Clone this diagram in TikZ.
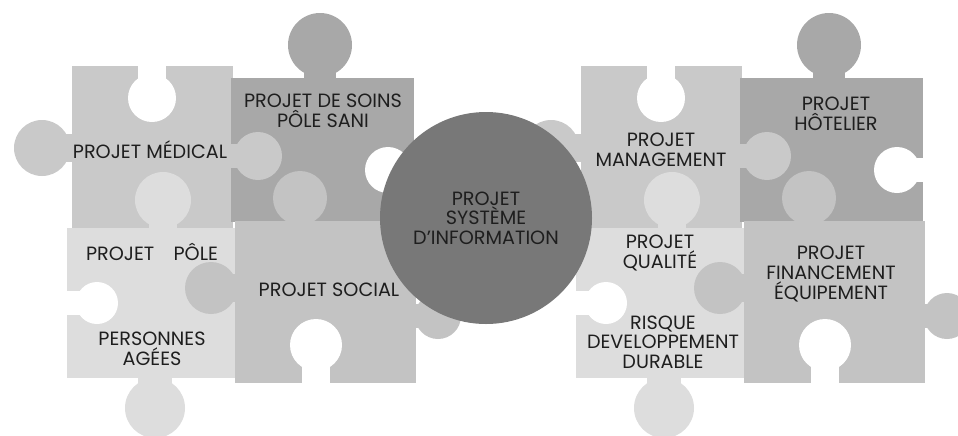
\documentclass[tikz,border=0pt]{standalone}
\usepackage{fontspec}
\setmainfont{Poppins}
\usepackage{tikz}
\definecolor{palegray}{HTML}{C9C9C9}
\definecolor{darkpiece}{HTML}{A8A8A8}
\definecolor{lightpiece}{HTML}{DDDDDD}
\definecolor{midpiece}{HTML}{C3C3C3}
\definecolor{sigray}{HTML}{787878}
\definecolor{inkgray}{HTML}{1E1E1E}
\tikzset{
  piece/.style={fill=#1, draw=none},
  hole/.style={fill=white, draw=none},
  puzzletext/.style={font=\fontsize{9.6}{9.8}\selectfont, text=inkgray, align=center, inner sep=0pt},
  sysinfo/.style={circle, fill=sigray, minimum size=106pt, inner sep=0pt, puzzletext}
}

\begin{document}
\begin{tikzpicture}[x=0.5pt, y=-0.5pt]
      \useasboundingbox (0, 0) rectangle (958, 435);
      \clip (0, 0) rectangle (958, 435);
      \foreach \dx in {0, 509} {
        \begin{scope}[shift={(\dx, 0)}]
          \fill[piece=palegray] (72, 66) rectangle (233, 228);
          \fill[piece=darkpiece] (231, 78) rectangle (414, 222);
          \fill[piece=lightpiece] (67, 228) rectangle (236, 378);
          \fill[piece=midpiece] (235, 221) rectangle (416, 383);
          \fill[piece=palegray] (54, 134) rectangle (74, 162);
          \fill[piece=palegray] (42, 148) circle (28);
          \fill[piece=palegray] (231, 144) rectangle (250, 168);
          \fill[piece=palegray] (258, 156) circle (24);
          \fill[piece=darkpiece] (304, 45) rectangle (336, 80);
          \fill[piece=darkpiece] (320, 45) circle (32);
          \fill[piece=lightpiece] (149, 200) rectangle (177, 230);
          \fill[piece=lightpiece] (163, 200) circle (28);
          \fill[piece=lightpiece] (138, 376) rectangle (172, 408);
          \fill[piece=lightpiece] (155, 408) circle (30);
          \fill[piece=midpiece] (286, 198) rectangle (314, 224);
          \fill[piece=midpiece] (300, 198) circle (27);
          \fill[piece=midpiece] (211, 274) rectangle (238, 302);
          \fill[piece=midpiece] (211, 288) circle (26);
          \fill[piece=midpiece] (414, 304) rectangle (438, 328);
          \fill[piece=midpiece] (438, 316) circle (23);
          \fill[hole] (138, 64) rectangle (166, 98);
          \fill[hole] (152, 98) circle (24);
          \fill[hole] (388, 158) rectangle (416, 182);
          \fill[hole] (388, 170) circle (23);
          \fill[hole] (65, 291) rectangle (97, 315);
          \fill[hole] (97, 303) circle (21);
          \fill[hole] (302, 345) rectangle (330, 385);
          \fill[hole] (316, 345) circle (26);
        \end{scope}
      }
      \node[sysinfo] (si) at (486, 218) {PROJET\\SYSTÈME\\D'INFORMATION};
      \node[puzzletext] (medical) at (150, 150) {PROJET MÉDICAL};
      \node[puzzletext] (soins) at (323, 111) {PROJET DE SOINS\\PÔLE SANI};
      \node[puzzletext] (pole) at (152, 252) {PROJET\quad PÔLE};
      \node[puzzletext] (agees) at (152, 349) {PERSONNES\\AGÉES};
      \node[puzzletext] (social) at (329, 290) {PROJET SOCIAL};
      \node[puzzletext] (management) at (661, 150) {PROJET\\MANAGEMENT};
      \node[puzzletext] (hotelier) at (836, 114) {PROJET\\HÔTELIER};
      \node[puzzletext] (qualite) at (660, 253) {PROJET\\QUALITÉ};
      \node[puzzletext] (risque) at (663, 342) {RISQUE\\DEVELOPPEMENT\\DURABLE};
      \node[puzzletext] (financement) at (831, 274) {PROJET\\FINANCEMENT\\ÉQUIPEMENT};
    \end{tikzpicture}
\end{document}
